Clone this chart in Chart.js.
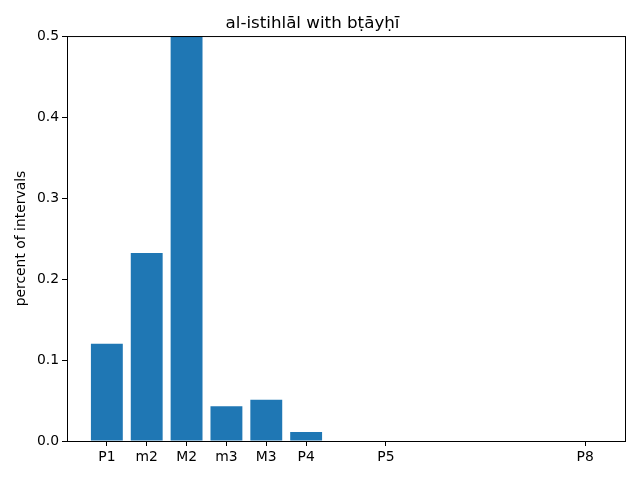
<!DOCTYPE html>
<html>
<head>
<meta charset="utf-8">
<script src="https://cdn.jsdelivr.net/npm/chart.js@4/dist/chart.umd.min.js"></script>
<style>
    html, body { margin: 0; padding: 0; background: #fff; }
    canvas { display: block; }
</style>
</head>
<body>
<canvas id="chart" width="640" height="480"></canvas>
<script>
// interval names, their size in semitones and the share of intervals
const intervalLabels = ['P1', 'm2', 'M2', 'm3', 'M3', 'P4', 'P5', 'P8'];
const intervalSemitones = [0, 1, 2, 3, 4, 5, 7, 12];
const intervalShares = [0.12, 0.232, 0.5, 0.043, 0.051, 0.011, 0, 0];
const yTicks = [0, 0.1, 0.2, 0.3, 0.4, 0.5];

const FONT = 'DejaVu Sans';

// matplotlib draws a full box round the axes
const framePlugin = {
    id: 'frame',
    afterDatasetsDraw(chart) {
        const { ctx, chartArea } = chart;
        ctx.save();
        ctx.strokeStyle = '#000';
        ctx.lineWidth = 1;
        ctx.strokeRect(chartArea.left + 0.5, chartArea.top + 0.5,
            chartArea.right - chartArea.left, chartArea.bottom - chartArea.top);
        ctx.restore();
    }
};

const ctx = document.getElementById('chart').getContext('2d');
new Chart(ctx, {
    type: 'bar',
    data: {
        datasets: [
            {
                label: 'percent of intervals',
                data: intervalSemitones.map((x, i) => ({ x: x, y: intervalShares[i] })),
                backgroundColor: '#1f77b4',
                borderWidth: 0,
                inflateAmount: 0,
                barPercentage: 0.8,
                categoryPercentage: 1.0
            }
        ]
    },
    options: {
        responsive: false,
        animation: false,
        devicePixelRatio: 1,
        layout: {
            padding: { left: 0, right: 15, top: 0, bottom: 0 }
        },
        scales: {
            x: {
                type: 'linear',
                min: -1,
                max: 13,
                offset: false,
                afterBuildTicks: scale => {
                    scale.ticks = intervalSemitones.map(v => ({ value: v }));
                },
                afterFit: scale => {
                    scale.height = 39;
                },
                ticks: {
                    autoSkip: false,
                    maxRotation: 0,
                    padding: 3,
                    color: '#000',
                    font: { family: FONT, size: 13.9 },
                    callback: value => {
                        const index = intervalSemitones.indexOf(value);
                        return index >= 0 ? intervalLabels[index] : '';
                    }
                },
                grid: {
                    offset: false,
                    drawOnChartArea: false,
                    drawTicks: true,
                    tickLength: 5,
                    tickColor: '#000'
                },
                border: { display: true, color: '#000', width: 1 }
            },
            y: {
                min: 0,
                max: 0.5,
                afterBuildTicks: scale => {
                    scale.ticks = yTicks.map(v => ({ value: v }));
                },
                afterFit: scale => {
                    scale.width = 67;
                },
                ticks: {
                    padding: 3,
                    color: '#000',
                    font: { family: FONT, size: 13.9 },
                    callback: value => value.toFixed(1)
                },
                title: {
                    display: true,
                    text: 'percent of intervals',
                    color: '#000',
                    font: { family: FONT, size: 13.9 },
                    padding: { top: 13, bottom: 0 }
                },
                grid: {
                    drawOnChartArea: false,
                    drawTicks: true,
                    tickLength: 5,
                    tickColor: '#000'
                },
                border: { display: true, color: '#000', width: 1 }
            }
        },
        plugins: {
            legend: { display: false },
            tooltip: { enabled: false },
            title: {
                display: true,
                text: 'al-istihlāl with bṭāyḥī',
                color: '#000',
                font: { family: FONT, size: 16.7, weight: 'normal' },
                padding: { top: 14, bottom: 2 }
            }
        }
    },
    plugins: [framePlugin]
});
</script>
</body>
</html>
